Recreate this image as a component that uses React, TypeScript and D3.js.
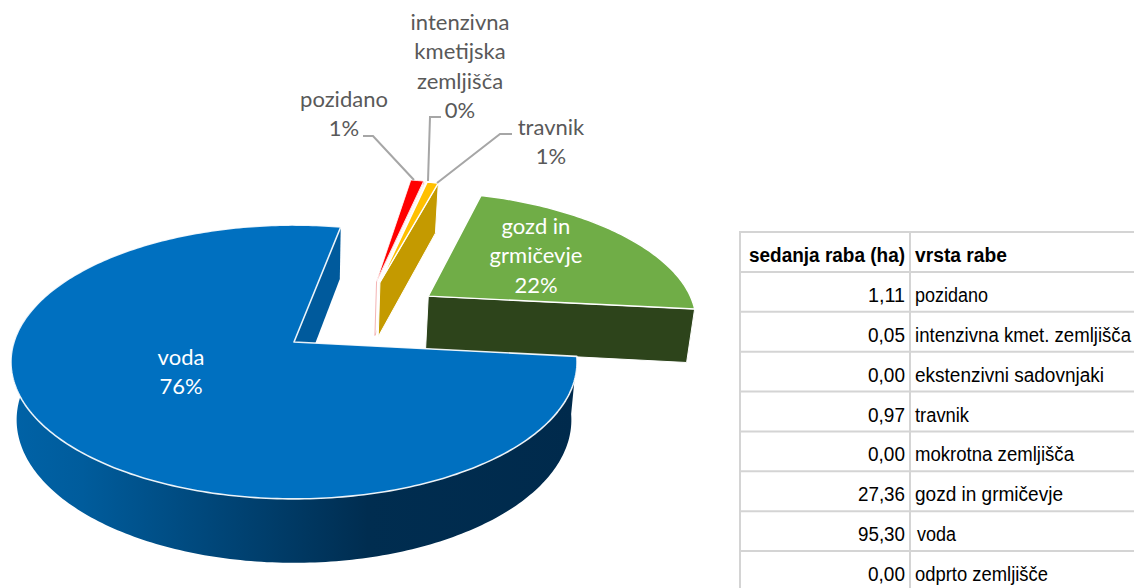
import React from "react";
import * as d3 from "d3";

const tableHeaders = ["sedanja raba (ha)", "vrsta rabe"];
const useNames = ["pozidano", "intenzivna kmet. zemljišča", "ekstenzivni sadovnjaki", "travnik", "mokrotna zemljišča", "gozd in grmičevje", "voda", "odprto zemljišče"];
const hectares = [1.11, 0.05, 0.0, 0.97, 0.0, 27.36, 95.3, 0.0];
const pieKeys = ["pozidano", "intenzivna", "ekstenzivni", "travnik", "mokrotna", "gozd", "voda", "odprto"];
const labelLines: Record<string, string[]> = {
  pozidano: ["pozidano"],
  intenzivna: ["intenzivna", "kmetijska", "zemljišča"],
  travnik: ["travnik"],
  gozd: ["gozd in", "grmičevje"],
  voda: ["voda"],
};

const W = 1134, H = 588;
const CX = 294, CY = 342, A = 280, B = 134, K = 0.146;
const SX = 0.98, SY = 1.044, DEPTH = 57;
const START = (11 * Math.PI) / 180;

// widths of the table's cell texts, as set in the reference
const nameWidths = [73, 216, 189, 54, 159, 148, 39, 133];
const valueWidths = [37, 37, 37, 37, 37, 47, 47, 37];

const topColor: Record<string, string> = { pozidano: "#FF0000", intenzivna: "#ED7D31", travnik: "#FFC000", gozd: "#70AD47", voda: "#0070C0" };
const wallColor: Record<string, string> = { pozidano: "#ffffff", intenzivna: "#ffffff", travnik: "#C49A00", gozd: "#2D441B", voda: "#005A9C" };
// exploded offset in pie-plane units: [distance, direction in degrees]
const explode: Record<string, [number, number]> = {
  pozidano: [0.58, 33], intenzivna: [0.58, 33.8], travnik: [0.58, 34.5], gozd: [0.62, 54.5], voda: [0, 0],
};
const sliceRadius: Record<string, number> = { gozd: 0.985 };
const wallShift: Record<string, P> = { gozd: [0, -2] };
const labelPos: Record<string, { x: number; y: number; fill: string }> = {
  pozidano: { x: 344, y: 107, fill: "#595959" },
  intenzivna: { x: 460, y: 30, fill: "#595959" },
  travnik: { x: 551, y: 135, fill: "#595959" },
  gozd: { x: 536, y: 234, fill: "#ffffff" },
  voda: { x: 181, y: 365, fill: "#ffffff" },
};
const leaders: Record<string, [number, number][]> = {
  pozidano: [[363, 136], [373, 136], [414, 180]],
  intenzivna: [[441, 117], [430, 117], [428, 181]],
  travnik: [[512, 134], [500, 134], [437, 183]],
};

type P = [number, number];
const project = (u: number, v: number): P => {
  const w = 1 - K * v;
  return [CX + (A * u) / w, CY + (B * v) / w];
};
const lower = ([x, y]: P, shift: P = [0, 0]): P => [CX + SX * (x - CX) + shift[0], CY + DEPTH + SY * (y - CY) + shift[1]];
const lineGen = d3.line<P>();
const closed = (pts: P[]) => lineGen(pts)! + "Z";

const total = d3.sum(hectares);
const arcs = d3.pie<number>().sort(null).startAngle(START).endAngle(START + 2 * Math.PI)(hectares);
const pctFmt = d3.format(".0%");
const numFmt = d3.formatLocale({ decimal: ",", thousands: ".", grouping: [3], currency: ["", ""] }).format(".2f");

function geom(i: number) {
  const key = pieKeys[i];
  const [dist, dir] = explode[key];
  const r = sliceRadius[key] ?? 1;
  const ox = dist * Math.sin((dir * Math.PI) / 180);
  const oy = -dist * Math.cos((dir * Math.PI) / 180);
  const at = (a: number): P => project(r * Math.sin(a) + ox, -r * Math.cos(a) + oy);
  const apex = project(ox, oy);
  const a0 = arcs[i].startAngle, a1 = arcs[i].endAngle;
  const n = Math.max(2, Math.ceil((a1 - a0) * 60));
  const rim = d3.range(n + 1).map((j) => at(a0 + ((a1 - a0) * j) / n));
  return { key, apex, rim, at, a0, a1, top: closed([apex, ...rim]) };
}
const radialWall = (apex: P, rimPt: P, shift?: P) => closed([apex, rimPt, lower(rimPt, shift), lower(apex, shift)]);

function Slice({ i }: { i: number }) {
  const g = geom(i);
  const stroke = "#ffffff";
  if (g.key === "voda") {
    const tangent = (285 * Math.PI) / 180;
    const outer = g.rim.filter((_, j) => g.a0 + ((g.a1 - g.a0) * j) / (g.rim.length - 1) <= tangent);
    return (
      <g>
        <path d={closed([...outer, ...outer.map((p) => lower(p)).reverse()])} fill="url(#vodaWall)" />
        <path d={radialWall(g.apex, g.rim[g.rim.length - 1])} fill={wallColor.voda} />
        <path d={g.top} fill={topColor.voda} stroke={stroke} strokeWidth={1.6} strokeOpacity={0.9} strokeLinejoin="round" />
      </g>
    );
  }
  const pink = g.key === "pozidano";
  return (
    <g>
      <path d={radialWall(g.apex, g.rim[g.rim.length - 1], wallShift[g.key])} fill={wallColor[g.key]} stroke={pink ? "#f4b4b4" : stroke} strokeWidth={1} />
      <path d={g.top} fill={topColor[g.key]} stroke={stroke} strokeWidth={g.key === "gozd" || g.key === "travnik" ? 1.4 : 0.8} strokeLinejoin="round" />
    </g>
  );
}

const LABEL_FONT = "Lato, Carlito, sans-serif";
const TABLE_FONT = "'Liberation Sans', Arial, sans-serif";
const LEAD = 29.3;

export default function App() {
  const order = ["pozidano", "intenzivna", "travnik", "gozd", "voda"];
  const rowY = d3.scaleLinear().domain([0, 9]).range([232, 591]);
  const tableL = 740, tableM = 910;
  return (
    <svg width={W} height={H} viewBox={`0 0 ${W} ${H}`} style={{ position: "absolute", left: 0, top: 0, display: "block", background: "#fff" }}>
      <defs>
        <linearGradient id="vodaWall" gradientUnits="userSpaceOnUse" x1={15} x2={575} y1={0} y2={0}>
          <stop offset="0" stopColor="#0062A6" />
          <stop offset="0.12" stopColor="#005C9C" />
          <stop offset="0.63" stopColor="#002D50" />
          <stop offset="1" stopColor="#002A4C" />
        </linearGradient>
      </defs>

      {order.map((k) => <Slice key={k} i={pieKeys.indexOf(k)} />)}

      {Object.entries(leaders).map(([k, pts]) => (
        <path key={k} d={lineGen(pts as P[])!} fill="none" stroke="#A6A6A6" strokeWidth={2} />
      ))}

      {order.map((k) => {
        const i = pieKeys.indexOf(k);
        const pos = labelPos[k];
        const lines = [...labelLines[k], pctFmt(hectares[i] / total)];
        return (
          <text key={k} textAnchor="middle" fontFamily={LABEL_FONT} fontSize={22} fill={pos.fill}>
            {lines.map((t, j) => <tspan key={j} x={pos.x} y={pos.y + j * LEAD}>{t}</tspan>)}
          </text>
        );
      })}

      <g stroke="#D4D4D4" strokeWidth={2}>
        {d3.range(9).map((r) => <line key={r} x1={tableL - 1} x2={W} y1={rowY(r)} y2={rowY(r)} />)}
        <line x1={tableL} x2={tableL} y1={231} y2={H} />
        <line x1={tableM} x2={tableM} y1={231} y2={H} />
      </g>
      <g fontFamily={TABLE_FONT} fontSize={20} fill="#000">
        <text x={905} y={262} textAnchor="end" fontWeight={700} fontSize={19.5} textLength={156} lengthAdjust="spacingAndGlyphs">{tableHeaders[0]}</text>
        <text x={915} y={262} fontWeight={700} fontSize={19.5} textLength={92} lengthAdjust="spacingAndGlyphs">{tableHeaders[1]}</text>
        {useNames.map((n, r) => (
          <g key={n}>
            <text x={905 - valueWidths[r]} y={rowY(r + 1) + 30} textLength={valueWidths[r]} lengthAdjust="spacingAndGlyphs">{numFmt(hectares[r])}</text>
            <text x={n === "voda" ? 917 : 915} y={rowY(r + 1) + 30} textLength={nameWidths[r]} lengthAdjust="spacingAndGlyphs">{n}</text>
          </g>
        ))}
      </g>
    </svg>
  );
}
